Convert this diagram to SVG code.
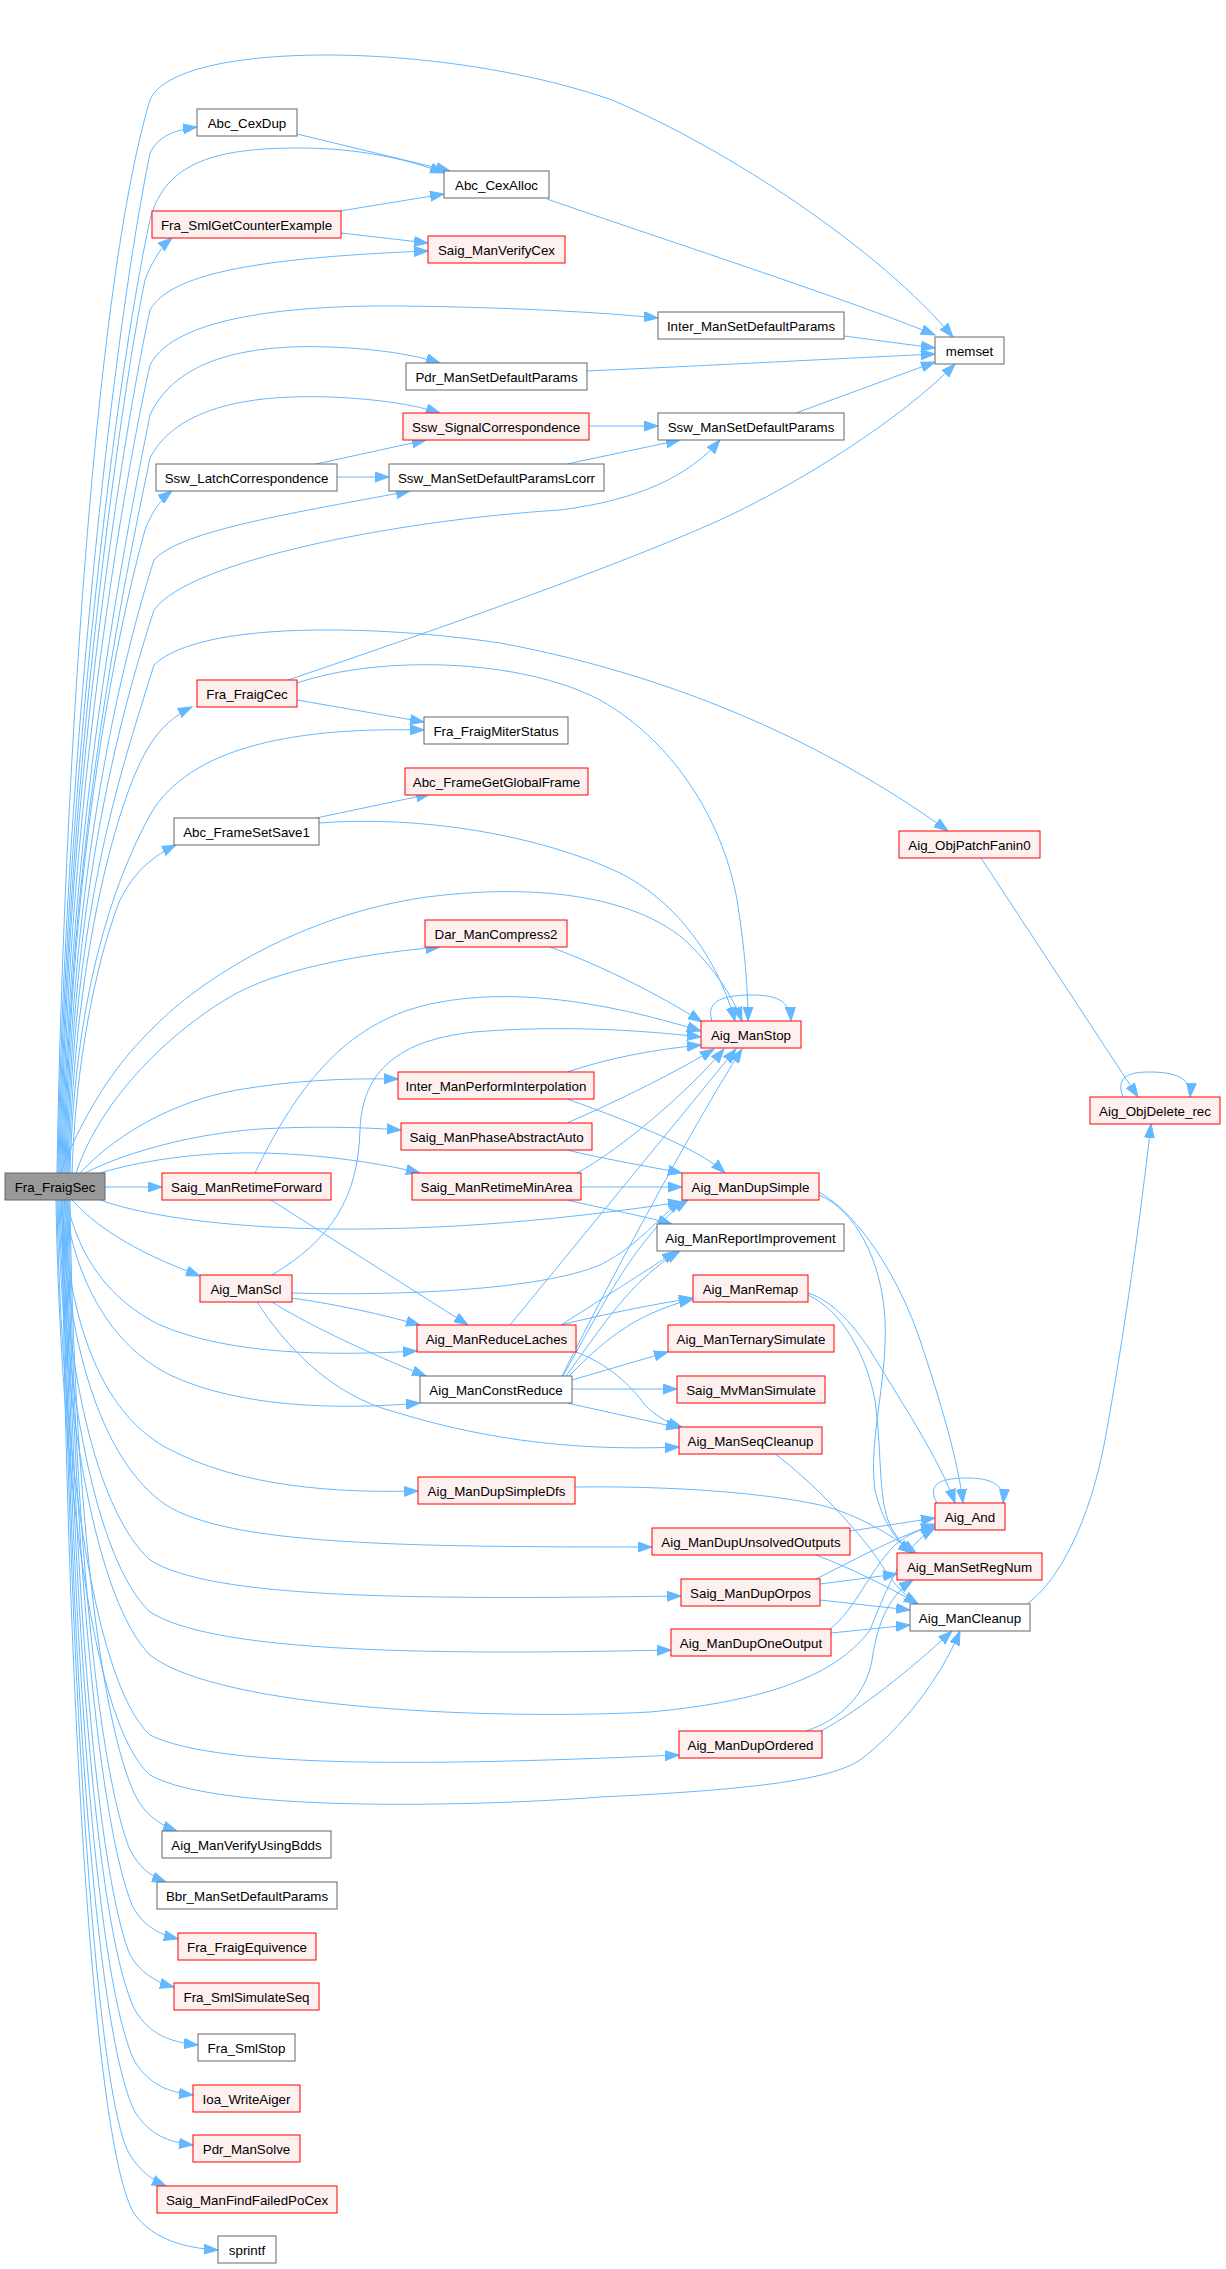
<svg xmlns="http://www.w3.org/2000/svg" width="1226" height="2269" viewBox="0 0 1226 2269">
<defs>
<style>
.r{fill:#fff0f0;stroke:#ff0000;stroke-width:1}
.w{fill:#ffffff;stroke:#666666;stroke-width:1}
.g{fill:#999999;stroke:#666666;stroke-width:1}
text{font-family:"Liberation Sans",Arial,sans-serif;font-size:13.33px;text-anchor:middle;fill:#000000}
#edges path{fill:none;stroke:#63b8ff;stroke-width:1;marker-end:url(#a)}
</style>
<marker id="a" markerUnits="userSpaceOnUse" markerWidth="15" markerHeight="11" refX="14" refY="5.5" orient="auto">
<path d="M0,0.5 L14,5.5 L0,10.5 Z" fill="#63b8ff" stroke="#63b8ff" stroke-width="1"/>
</marker>
</defs>
<rect x="0" y="0" width="1226" height="2269" fill="#ffffff"/>
<g id="edges">
<path d="M57,1173 C62,850 90,300 150,100 C175,40 440,40 612,100 C730,150 880,250 953,337"/>
<path d="M58,1173 C63,800 110,350 150,153 C158,136 175,130 197,127"/>
<path d="M59,1173 C64,800 115,380 150,220 C165,160 220,148 300,148 C360,148 410,160 444,173"/>
<path d="M60,1173 C65,800 120,400 145,280 C152,262 160,248 172,238"/>
<path d="M61,1173 C66,800 120,450 150,310 C170,275 250,258 428,251"/>
<path d="M62,1173 C67,820 120,500 150,365 C175,315 300,305 400,306 C500,307 600,312 658,318"/>
<path d="M63,1173 C68,830 125,540 150,415 C180,350 270,345 330,347 C380,349 415,355 440,363"/>
<path d="M64,1173 C69,840 125,580 150,458 C180,400 270,395 330,397 C380,399 415,405 440,413"/>
<path d="M65,1173 C70,850 120,620 145,530 C152,512 160,500 172,491"/>
<path d="M66,1173 C71,860 125,650 154,560 C180,530 300,512 410,491"/>
<path d="M67,1173 C72,880 125,700 154,610 C190,560 400,520 560,510 C640,500 690,475 720,440"/>
<path d="M68,1173 C73,900 125,760 154,665 C200,620 380,625 500,643 C700,680 850,760 948,831"/>
<path d="M69,1173 C74,950 120,790 150,745 C160,728 175,715 192,707"/>
<path d="M70,1173 C75,980 120,870 150,815 C190,745 300,727 424,730"/>
<path d="M72,1173 C76,1050 100,950 120,900 C135,870 155,855 176,845"/>
<path d="M60,1173 C90,1100 120,1060 154,1027 C200,980 300,915 427,897 C560,880 650,905 690,945 C715,970 732,995 742,1021"/>
<path d="M76,1173 C100,1100 170,1030 237,993 C290,965 380,952 440,947"/>
<path d="M80,1173 C120,1130 180,1100 237,1090 C290,1081 340,1078 398,1079"/>
<path d="M85,1173 C130,1150 200,1133 260,1129 C310,1126 360,1127 401,1130"/>
<path d="M100,1173 C150,1158 210,1152 260,1153 C320,1154 380,1163 420,1173"/>
<path d="M105,1187 L162,1187"/>
<path d="M100,1200 C150,1218 240,1228 330,1229 C450,1230 560,1220 682,1202"/>
<path d="M72,1200 C95,1225 130,1250 200,1276"/>
<path d="M66,1200 C80,1260 110,1300 160,1325 C230,1355 330,1356 417,1351"/>
<path d="M64,1200 C75,1280 110,1345 170,1375 C240,1408 340,1410 420,1403"/>
<path d="M62,1200 C68,1320 100,1410 165,1447 C240,1488 340,1493 418,1491"/>
<path d="M61,1200 C66,1340 100,1460 166,1505 C230,1545 400,1547 652,1547"/>
<path d="M60,1200 C64,1360 95,1510 150,1560 C210,1598 400,1600 681,1596"/>
<path d="M59,1200 C63,1380 95,1560 150,1612 C210,1650 400,1656 671,1650"/>
<path d="M58,1200 C62,1400 95,1600 150,1655 C220,1710 500,1720 650,1712 C780,1700 840,1670 870,1630 C890,1580 905,1545 935,1528"/>
<path d="M57,1200 C60,1420 90,1680 150,1735 C220,1770 450,1765 679,1755"/>
<path d="M56,1200 C60,1440 88,1720 150,1775 C220,1815 500,1805 600,1797 C750,1790 830,1780 860,1760 C900,1730 940,1680 960,1631"/>
<path d="M70,1200 C74,1500 100,1720 135,1795 C145,1815 160,1825 177,1831"/>
<path d="M69,1200 C73,1520 98,1770 130,1850 C140,1868 150,1876 166,1882"/>
<path d="M68,1200 C72,1540 98,1820 132,1905 C142,1925 158,1934 178,1939"/>
<path d="M67,1200 C71,1560 96,1870 130,1955 C140,1972 155,1982 174,1987"/>
<path d="M66,1200 C70,1580 95,1930 135,2010 C150,2035 170,2042 198,2045"/>
<path d="M65,1200 C69,1600 94,1980 135,2062 C150,2085 168,2092 193,2095"/>
<path d="M64,1200 C68,1620 93,2030 135,2112 C150,2135 168,2142 193,2145"/>
<path d="M63,1200 C67,1640 95,2100 130,2155 C140,2170 150,2179 166,2186"/>
<path d="M62,1200 C66,1660 92,2150 135,2215 C155,2240 185,2248 218,2250"/>
<path d="M297,134 L450,171"/>
<path d="M547,199 C650,235 850,300 935,335"/>
<path d="M340,211 L444,194"/>
<path d="M341,233 L428,243"/>
<path d="M844,336 L935,348"/>
<path d="M587,371 C700,366 850,358 935,354"/>
<path d="M589,426 L658,426"/>
<path d="M316,464 L426,440"/>
<path d="M337,477 L389,477"/>
<path d="M567,464 L680,440"/>
<path d="M796,413 L935,362"/>
<path d="M288,680 C450,625 620,565 720,520 C800,483 900,420 955,364"/>
<path d="M297,700 L424,722"/>
<path d="M297,683 C380,655 520,658 600,700 C680,745 725,830 737,900 C745,950 748,990 748,1021"/>
<path d="M316,818 L430,794"/>
<path d="M319,823 C420,815 540,835 620,873 C670,898 715,950 735,1021"/>
<path d="M550,947 C600,965 660,995 702,1022"/>
<path d="M255,1173 C300,1080 350,1020 435,1003 C510,988 600,1000 701,1031"/>
<path d="M272,1275 C330,1240 358,1200 360,1130 C362,1070 400,1040 474,1032 C560,1025 640,1030 701,1037"/>
<path d="M567,1072 C610,1058 650,1050 701,1045"/>
<path d="M567,1123 C620,1100 680,1070 714,1049"/>
<path d="M577,1173 C620,1150 690,1090 724,1049"/>
<path d="M510,1325 L736,1049"/>
<path d="M562,1376 C600,1300 690,1130 742,1049"/>
<path d="M712,1021 C705,1000 725,995 752,995 C775,995 790,1000 791,1021"/>
<path d="M981,858 L1138,1097"/>
<path d="M1123,1097 C1115,1076 1130,1072 1150,1072 C1175,1072 1192,1078 1190,1097"/>
<path d="M271,1200 L468,1325"/>
<path d="M567,1099 C640,1125 700,1150 725,1173"/>
<path d="M567,1150 C600,1158 640,1165 682,1173"/>
<path d="M581,1187 L682,1187"/>
<path d="M567,1200 C600,1208 640,1215 672,1224"/>
<path d="M292,1293 C400,1296 540,1290 600,1265 C640,1245 660,1215 682,1201"/>
<path d="M292,1298 C340,1305 380,1314 420,1325"/>
<path d="M272,1302 C300,1320 360,1350 426,1376"/>
<path d="M257,1302 C285,1345 330,1395 395,1412 C470,1435 560,1452 679,1447"/>
<path d="M561,1325 C600,1300 640,1275 676,1251"/>
<path d="M561,1325 C600,1315 650,1305 693,1298"/>
<path d="M576,1352 C610,1365 630,1385 645,1405 C655,1415 665,1422 682,1427"/>
<path d="M569,1376 C600,1345 630,1315 693,1299"/>
<path d="M566,1376 C600,1330 630,1280 680,1251"/>
<path d="M563,1376 C600,1310 640,1230 688,1200"/>
<path d="M572,1380 L668,1352"/>
<path d="M572,1389 L677,1389"/>
<path d="M567,1403 L680,1428"/>
<path d="M819,1192 C860,1215 900,1280 920,1340 C940,1400 958,1460 963,1503"/>
<path d="M819,1195 C855,1210 882,1260 885,1320 C888,1380 868,1440 875,1490 C882,1520 895,1540 912,1553"/>
<path d="M808,1293 C830,1300 850,1320 870,1350 C900,1400 940,1460 955,1503"/>
<path d="M808,1295 C840,1310 865,1350 875,1400 C882,1450 878,1500 890,1525 C898,1540 905,1548 912,1553"/>
<path d="M774,1453 C810,1480 860,1530 885,1570 C895,1585 905,1596 918,1604"/>
<path d="M575,1487 C650,1486 750,1490 820,1505 C860,1515 890,1535 916,1553"/>
<path d="M850,1531 L935,1518"/>
<path d="M816,1555 C850,1568 885,1585 918,1604"/>
<path d="M816,1579 C850,1562 890,1540 935,1524"/>
<path d="M820,1584 L897,1574"/>
<path d="M820,1600 L910,1610"/>
<path d="M830,1629 C855,1610 870,1570 895,1545 C910,1533 920,1529 935,1527"/>
<path d="M831,1633 L910,1625"/>
<path d="M806,1731 C840,1720 866,1695 872,1660 C878,1620 890,1595 913,1580"/>
<path d="M821,1731 C860,1710 910,1670 952,1631"/>
<path d="M937,1503 C925,1482 945,1478 967,1478 C990,1478 1005,1484 1003,1503"/>
<path d="M1027,1604 C1060,1580 1090,1520 1105,1440 C1125,1330 1140,1220 1151,1124"/>
</g>
<g id="node_Fra_FraigSec"><rect class="g" x="5" y="1173" width="100" height="27"/><text x="55" y="1191.5">Fra_FraigSec</text></g>
<g id="node_Abc_CexDup"><rect class="w" x="197" y="109" width="100" height="27"/><text x="247" y="127.5">Abc_CexDup</text></g>
<g id="node_Abc_CexAlloc"><rect class="w" x="444" y="171" width="105" height="27"/><text x="496.5" y="189.5">Abc_CexAlloc</text></g>
<g id="node_Fra_SmlGetCounterExample"><rect class="r" x="152" y="211" width="189" height="27"/><text x="246.5" y="229.5">Fra_SmlGetCounterExample</text></g>
<g id="node_Saig_ManVerifyCex"><rect class="r" x="428" y="236" width="137" height="27"/><text x="496.5" y="254.5">Saig_ManVerifyCex</text></g>
<g id="node_Inter_ManSetDefaultParams"><rect class="w" x="658" y="312" width="186" height="27"/><text x="751" y="330.5">Inter_ManSetDefaultParams</text></g>
<g id="node_memset"><rect class="w" x="935" y="337" width="69" height="27"/><text x="969.5" y="355.5">memset</text></g>
<g id="node_Pdr_ManSetDefaultParams"><rect class="w" x="406" y="363" width="181" height="27"/><text x="496.5" y="381.5">Pdr_ManSetDefaultParams</text></g>
<g id="node_Ssw_SignalCorrespondence"><rect class="r" x="403" y="413" width="186" height="27"/><text x="496" y="431.5">Ssw_SignalCorrespondence</text></g>
<g id="node_Ssw_ManSetDefaultParams"><rect class="w" x="658" y="413" width="186" height="27"/><text x="751" y="431.5">Ssw_ManSetDefaultParams</text></g>
<g id="node_Ssw_LatchCorrespondence"><rect class="w" x="156" y="464" width="181" height="27"/><text x="246.5" y="482.5">Ssw_LatchCorrespondence</text></g>
<g id="node_Ssw_ManSetDefaultParamsLcorr"><rect class="w" x="389" y="464" width="215" height="27"/><text x="496.5" y="482.5">Ssw_ManSetDefaultParamsLcorr</text></g>
<g id="node_Fra_FraigCec"><rect class="r" x="197" y="680" width="100" height="27"/><text x="247" y="698.5">Fra_FraigCec</text></g>
<g id="node_Fra_FraigMiterStatus"><rect class="w" x="424" y="717" width="144" height="27"/><text x="496" y="735.5">Fra_FraigMiterStatus</text></g>
<g id="node_Abc_FrameGetGlobalFrame"><rect class="r" x="405" y="768" width="183" height="27"/><text x="496.5" y="786.5">Abc_FrameGetGlobalFrame</text></g>
<g id="node_Abc_FrameSetSave1"><rect class="w" x="174" y="818" width="145" height="27"/><text x="246.5" y="836.5">Abc_FrameSetSave1</text></g>
<g id="node_Aig_ObjPatchFanin0"><rect class="r" x="899" y="831" width="141" height="27"/><text x="969.5" y="849.5">Aig_ObjPatchFanin0</text></g>
<g id="node_Dar_ManCompress2"><rect class="r" x="425" y="920" width="142" height="27"/><text x="496" y="938.5">Dar_ManCompress2</text></g>
<g id="node_Aig_ManStop"><rect class="r" x="701" y="1021" width="100" height="27"/><text x="751" y="1039.5">Aig_ManStop</text></g>
<g id="node_Inter_ManPerformInterpolation"><rect class="r" x="398" y="1072" width="196" height="27"/><text x="496" y="1090.5">Inter_ManPerformInterpolation</text></g>
<g id="node_Aig_ObjDelete_rec"><rect class="r" x="1090" y="1097" width="130" height="27"/><text x="1155" y="1115.5">Aig_ObjDelete_rec</text></g>
<g id="node_Saig_ManPhaseAbstractAuto"><rect class="r" x="401" y="1123" width="191" height="27"/><text x="496.5" y="1141.5">Saig_ManPhaseAbstractAuto</text></g>
<g id="node_Saig_ManRetimeForward"><rect class="r" x="162" y="1173" width="169" height="27"/><text x="246.5" y="1191.5">Saig_ManRetimeForward</text></g>
<g id="node_Saig_ManRetimeMinArea"><rect class="r" x="412" y="1173" width="169" height="27"/><text x="496.5" y="1191.5">Saig_ManRetimeMinArea</text></g>
<g id="node_Aig_ManDupSimple"><rect class="r" x="682" y="1173" width="137" height="27"/><text x="750.5" y="1191.5">Aig_ManDupSimple</text></g>
<g id="node_Aig_ManReportImprovement"><rect class="w" x="657" y="1224" width="187" height="27"/><text x="750.5" y="1242.5">Aig_ManReportImprovement</text></g>
<g id="node_Aig_ManScl"><rect class="r" x="200" y="1275" width="92" height="27"/><text x="246" y="1293.5">Aig_ManScl</text></g>
<g id="node_Aig_ManRemap"><rect class="r" x="693" y="1275" width="115" height="27"/><text x="750.5" y="1293.5">Aig_ManRemap</text></g>
<g id="node_Aig_ManReduceLaches"><rect class="r" x="417" y="1325" width="159" height="27"/><text x="496.5" y="1343.5">Aig_ManReduceLaches</text></g>
<g id="node_Aig_ManTernarySimulate"><rect class="r" x="668" y="1325" width="166" height="27"/><text x="751" y="1343.5">Aig_ManTernarySimulate</text></g>
<g id="node_Aig_ManConstReduce"><rect class="w" x="420" y="1376" width="152" height="27"/><text x="496" y="1394.5">Aig_ManConstReduce</text></g>
<g id="node_Saig_MvManSimulate"><rect class="r" x="677" y="1376" width="148" height="27"/><text x="751" y="1394.5">Saig_MvManSimulate</text></g>
<g id="node_Aig_ManSeqCleanup"><rect class="r" x="679" y="1427" width="143" height="27"/><text x="750.5" y="1445.5">Aig_ManSeqCleanup</text></g>
<g id="node_Aig_ManDupSimpleDfs"><rect class="r" x="418" y="1477" width="157" height="27"/><text x="496.5" y="1495.5">Aig_ManDupSimpleDfs</text></g>
<g id="node_Aig_And"><rect class="r" x="935" y="1503" width="70" height="27"/><text x="970" y="1521.5">Aig_And</text></g>
<g id="node_Aig_ManDupUnsolvedOutputs"><rect class="r" x="652" y="1528" width="198" height="27"/><text x="751" y="1546.5">Aig_ManDupUnsolvedOutputs</text></g>
<g id="node_Aig_ManSetRegNum"><rect class="r" x="897" y="1553" width="145" height="27"/><text x="969.5" y="1571.5">Aig_ManSetRegNum</text></g>
<g id="node_Saig_ManDupOrpos"><rect class="r" x="681" y="1579" width="139" height="27"/><text x="750.5" y="1597.5">Saig_ManDupOrpos</text></g>
<g id="node_Aig_ManCleanup"><rect class="w" x="910" y="1604" width="120" height="27"/><text x="970" y="1622.5">Aig_ManCleanup</text></g>
<g id="node_Aig_ManDupOneOutput"><rect class="r" x="671" y="1629" width="160" height="27"/><text x="751" y="1647.5">Aig_ManDupOneOutput</text></g>
<g id="node_Aig_ManDupOrdered"><rect class="r" x="679" y="1731" width="143" height="27"/><text x="750.5" y="1749.5">Aig_ManDupOrdered</text></g>
<g id="node_Aig_ManVerifyUsingBdds"><rect class="w" x="162" y="1831" width="169" height="27"/><text x="246.5" y="1849.5">Aig_ManVerifyUsingBdds</text></g>
<g id="node_Bbr_ManSetDefaultParams"><rect class="w" x="157" y="1882" width="180" height="27"/><text x="247" y="1900.5">Bbr_ManSetDefaultParams</text></g>
<g id="node_Fra_FraigEquivence"><rect class="r" x="178" y="1933" width="138" height="27"/><text x="247" y="1951.5">Fra_FraigEquivence</text></g>
<g id="node_Fra_SmlSimulateSeq"><rect class="r" x="174" y="1983" width="145" height="27"/><text x="246.5" y="2001.5">Fra_SmlSimulateSeq</text></g>
<g id="node_Fra_SmlStop"><rect class="w" x="198" y="2034" width="97" height="27"/><text x="246.5" y="2052.5">Fra_SmlStop</text></g>
<g id="node_Ioa_WriteAiger"><rect class="r" x="193" y="2085" width="107" height="27"/><text x="246.5" y="2103.5">Ioa_WriteAiger</text></g>
<g id="node_Pdr_ManSolve"><rect class="r" x="193" y="2135" width="107" height="27"/><text x="246.5" y="2153.5">Pdr_ManSolve</text></g>
<g id="node_Saig_ManFindFailedPoCex"><rect class="r" x="157" y="2186" width="180" height="27"/><text x="247" y="2204.5">Saig_ManFindFailedPoCex</text></g>
<g id="node_sprintf"><rect class="w" x="218" y="2236" width="58" height="27"/><text x="247" y="2254.5">sprintf</text></g>
</svg>
